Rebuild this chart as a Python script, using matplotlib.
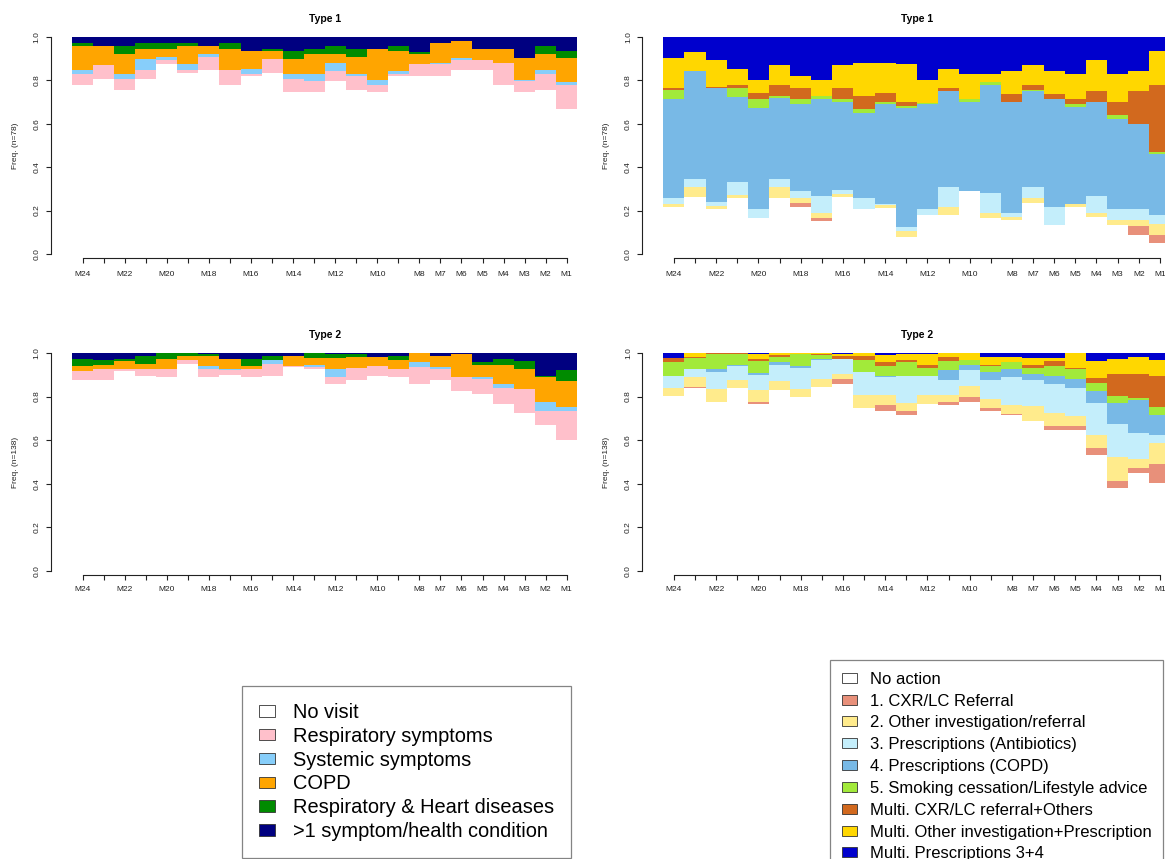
import numpy as np
import matplotlib
matplotlib.use("Agg")
import matplotlib.pyplot as plt
from matplotlib.patches import Patch

plt.rcParams['font.family'] = ['Liberation Sans', 'DejaVu Sans']

# ---------------------------------------------------------------- data
months = ["M24", "M23", "M22", "M21", "M20", "M19", "M18", "M17", "M16", "M15",
          "M14", "M13", "M12", "M11", "M10", "M9", "M8", "M7", "M6", "M5",
          "M4", "M3", "M2", "M1"]
tick_labels = ["M24", "", "M22", "", "M20", "", "M18", "", "M16", "", "M14", "",
               "M12", "", "M10", "", "M8", "M7", "M6", "M5", "M4", "M3", "M2", "M1"]

visit_states = ["No visit", "Respiratory symptoms", "Systemic symptoms", "COPD",
                "Respiratory & Heart diseases", ">1 symptom/health condition"]
visit_colors = ["#FFFFFF", "#FFC0CB", "#87CEFA", "#FFA500", "#008B00", "#000080"]

action_states = ["No action", "1. CXR/LC Referral", "2. Other investigation/referral",
                 "3. Prescriptions (Antibiotics)", "4. Prescriptions (COPD)",
                 "5. Smoking cessation/Lifestyle advice", "Multi. CXR/LC referral+Others",
                 "Multi. Other investigation+Prescription", "Multi. Prescriptions 3+4"]
action_colors = ["#FFFFFF", "#E8907A", "#FFEB8C", "#C4EEFB", "#78B9E6",
                 "#A2EA3A", "#D2691E", "#FFD700", "#0000CD"]

# Cumulative share reached at the top of each state (one row per month,
# the last state always closes the column at 1.0).
type1_visit_cum = [
    [.781, .828, .847, .959, .972], [.805, .870, .870, .959, .959],
    [.755, .805, .828, .923, .959], [.805, .847, .897, .946, .972],
    [.874, .896, .908, .946, .972], [.834, .847, .874, .959, .972],
    [.847, .908, .923, .959, .959], [.781, .847, .847, .946, .972],
    [.821, .828, .854, .934, .934], [.834, .897, .897, .934, .946],
    [.747, .805, .831, .897, .934], [.747, .796, .828, .923, .946],
    [.796, .844, .880, .923, .957], [.755, .819, .831, .908, .946],
    [.747, .778, .804, .946, .946], [.819, .828, .844, .934, .957],
    [.819, .874, .874, .920, .931], [.819, .874, .878, .972, .972],
    [.847, .896, .905, .982, .982], [.847, .896, .896, .946, .946],
    [.781, .882, .882, .946, .946], [.747, .796, .804, .905, .905],
    [.755, .831, .847, .923, .959], [.670, .781, .793, .905, .934],
]

type2_visit_cum = [
    [.877, .916, .916, .939, .974], [.877, .926, .926, .946, .966],
    [.916, .926, .926, .962, .974], [.893, .926, .926, .951, .988],
    [.890, .926, .926, .974, 1.00], [.949, .966, .966, .988, 1.00],
    [.890, .926, .939, .988, .997], [.900, .920, .926, .974, .974],
    [.890, .926, .926, .942, .974], [.896, .951, .966, .966, .988],
    [.936, .942, .942, .985, .985], [.926, .934, .946, .977, 1.00],
    [.859, .890, .928, .977, .995], [.877, .931, .931, .982, .997],
    [.893, .942, .942, .982, .982], [.890, .926, .926, .966, .988],
    [.859, .934, .959, 1.00, 1.00], [.877, .926, .934, .985, .985],
    [.824, .890, .890, .995, .995], [.813, .880, .890, .946, .959],
    [.767, .839, .859, .946, .974], [.727, .836, .836, .926, .962],
    [.670, .736, .773, .890, .896], [.601, .736, .752, .873, .923],
]

type1_action_cum = [
    [.215, .215, .230, .256, .716, .755, .767, .905],
    [.264, .264, .310, .344, .844, .844, .844, .931],
    [.206, .206, .221, .241, .767, .767, .770, .896],
    [.256, .256, .271, .333, .724, .767, .778, .854],
    [.164, .164, .164, .206, .675, .716, .742, .804],
    [.256, .256, .310, .344, .721, .727, .778, .870],
    [.218, .236, .256, .291, .690, .716, .767, .819],
    [.153, .164, .190, .267, .716, .727, .727, .804],
    [.264, .264, .276, .294, .701, .716, .767, .870],
    [.206, .206, .206, .256, .650, .670, .727, .880],
    [.210, .210, .225, .230, .693, .701, .742, .880],
    [.077, .077, .106, .126, .675, .681, .701, .877],
    [.179, .179, .179, .206, .690, .696, .696, .804],
    [.179, .179, .215, .307, .752, .752, .767, .854],
    [.291, .291, .291, .291, .701, .716, .716, .828],
    [.164, .164, .187, .282, .778, .793, .793, .828],
    [.156, .156, .169, .187, .701, .701, .739, .844],
    [.233, .233, .256, .307, .752, .758, .778, .870],
    [.133, .133, .133, .215, .716, .716, .739, .844],
    [.218, .218, .230, .230, .678, .693, .716, .828],
    [.169, .169, .187, .267, .701, .701, .752, .896],
    [.133, .133, .156, .206, .624, .640, .701, .828],
    [.087, .129, .156, .206, .601, .601, .752, .844],
    [.052, .087, .138, .179, .460, .471, .778, .936],
]

type2_action_cum = [
    [.804, .804, .839, .893, .896, .957, .977, .977],
    [.839, .844, .890, .926, .926, .977, .982, 1.00],
    [.773, .773, .834, .911, .926, .995, .998, .998],
    [.839, .839, .874, .942, .946, .995, 1.00, 1.00],
    [.767, .773, .831, .900, .908, .962, .972, .995],
    [.828, .828, .870, .946, .959, .982, .992, 1.00],
    [.798, .798, .834, .931, .939, .995, .995, 1.00],
    [.844, .844, .880, .966, .972, .992, .995, 1.00],
    [.859, .880, .905, .972, .972, .972, .985, .995],
    [.747, .747, .808, .911, .911, .969, .988, 1.00],
    [.732, .762, .808, .890, .896, .942, .957, .992],
    [.716, .732, .770, .893, .896, .957, .969, .995],
    [.767, .767, .808, .893, .893, .931, .946, .995],
    [.762, .773, .808, .874, .920, .962, .982, 1.00],
    [.773, .798, .847, .923, .946, .969, .969, 1.00],
    [.736, .747, .788, .877, .911, .942, .946, .982],
    [.716, .721, .762, .890, .926, .957, .957, .982],
    [.686, .686, .755, .877, .905, .931, .946, .977],
    [.647, .666, .724, .859, .896, .939, .962, .977],
    [.647, .666, .712, .839, .880, .926, .930, 1.00],
    [.532, .563, .624, .770, .824, .862, .885, .962],
    [.383, .414, .525, .675, .770, .804, .905, .972],
    [.451, .471, .512, .632, .785, .793, .905, .982],
    [.405, .491, .586, .624, .716, .752, .893, .969],
]

# ---------------------------------------------------------------- layout
W, H = 1165, 859
fig = plt.figure(figsize=(W / 100, H / 100), dpi=100)
fig.patch.set_facecolor("white")


def px_axes(x0, x1, ytop, ybot):
    return fig.add_axes([x0 / W, 1 - ybot / H, (x1 - x0) / W, (ybot - ytop) / H])


def draw_panel(ax, cum, colors, title, n, xlab_pad):
    cum = np.asarray(cum, dtype=float)
    ncol = cum.shape[0]
    edges = np.column_stack([np.zeros(ncol), cum, np.ones(ncol)])
    x = np.arange(1, ncol + 1)
    for k, col in enumerate(colors):
        bottom = edges[:, k]
        height = edges[:, k + 1] - bottom
        ax.bar(x, height, bottom=bottom, width=1.0, color=col,
               linewidth=0, antialiased=False)

    ax.set_xlim(0.5, ncol + 0.5)
    ax.set_ylim(0, 1)
    ax.set_facecolor("none")
    for s in ("top", "right"):
        ax.spines[s].set_visible(False)
    ax.spines["left"].set_position(("outward", 15))
    ax.spines["left"].set_bounds(0, 1)
    ax.spines["bottom"].set_position(("outward", 3))
    ax.spines["bottom"].set_bounds(1, ncol)
    for s in ("left", "bottom"):
        ax.spines[s].set_linewidth(0.8)
        ax.spines[s].set_color("#222222")

    ax.set_xticks(x)
    ax.set_xticklabels(tick_labels)
    ax.set_yticks([0, 0.2, 0.4, 0.6, 0.8, 1.0])
    ax.set_yticklabels(["0.0", "0.2", "0.4", "0.6", "0.8", "1.0"])
    ax.tick_params(axis="x", length=3.6, width=0.8, labelsize=6,
                   pad=xlab_pad, colors="#222222")
    ax.tick_params(axis="y", length=3.6, width=0.8, labelsize=6,
                   pad=4, colors="#222222")
    for lab in ax.get_yticklabels():
        lab.set_rotation(90)
        lab.set_va("center")

    ax.set_ylabel(f"Freq. (n={n})", fontsize=6, color="#222222",
                  va="center", ha="center")
    ax.yaxis.set_label_coords(-0.112, 0.5)
    ax.set_title(title, fontsize=7.5, fontweight="bold", pad=11)


ax_tl = px_axes(72.2, 577.2, 37, 254)
ax_tr = px_axes(663.3, 1170.4, 37, 254)
ax_bl = px_axes(72.2, 577.2, 353, 571)
ax_br = px_axes(663.3, 1170.4, 353, 571)

draw_panel(ax_tl, type1_visit_cum, visit_colors, "Type 1", 78, 6)
draw_panel(ax_tr, type1_action_cum, action_colors, "Type 1", 78, 6)
draw_panel(ax_bl, type2_visit_cum, visit_colors, "Type 2", 138, 4)
draw_panel(ax_br, type2_action_cum, action_colors, "Type 2", 138, 4)

# ---------------------------------------------------------------- legends
visit_handles = [Patch(facecolor=c, edgecolor="#333333", linewidth=0.6)
                 for c in visit_colors]
leg1 = fig.legend(visit_handles, visit_states, loc="upper left",
                  bbox_to_anchor=(242 / W, 1 - 686 / H), borderaxespad=0,
                  fontsize=14.4, frameon=True, fancybox=False, shadow=False,
                  borderpad=0.85, handlelength=0.8, handleheight=0.5,
                  handletextpad=0.9, labelspacing=0.24)
leg1.get_frame().set_edgecolor("#666666")
leg1.get_frame().set_linewidth(0.9)

action_handles = [Patch(facecolor=c, edgecolor="#333333", linewidth=0.6)
                  for c in action_colors]
leg2 = fig.legend(action_handles, action_states, loc="upper left",
                  bbox_to_anchor=(830 / W, 1 - 660 / H), borderaxespad=0,
                  fontsize=12, frameon=True, fancybox=False, shadow=False,
                  borderpad=0.7, handlelength=0.9, handleheight=0.55,
                  handletextpad=0.78, labelspacing=0.41)
leg2.get_frame().set_edgecolor("#666666")
leg2.get_frame().set_linewidth(0.9)

fig.savefig("out.png", dpi=100, facecolor="white")
